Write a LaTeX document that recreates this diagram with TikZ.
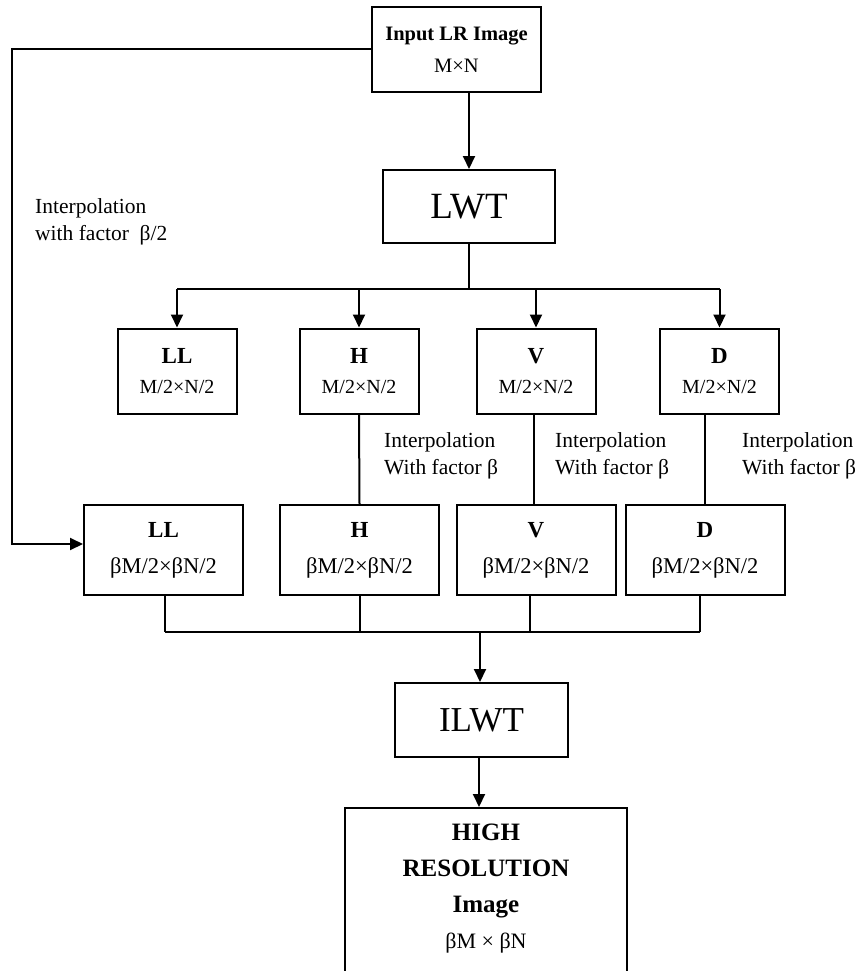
\documentclass[tikz,border=0pt]{standalone}
\usepackage{fontspec}
\setmainfont{Liberation Serif}
\usetikzlibrary{arrows.meta}
\begin{document}
\begin{tikzpicture}[x=1pt,y=-1pt,
  box/.style={draw, line width=2pt, inner sep=0pt, align=center},
  ln/.style={line width=2pt},
  arr/.style={line width=2pt, -{Triangle[width=12pt,length=13pt]}},
  lbl/.style={align=left, anchor=west, inner sep=0pt, font=\fontsize{21.5}{27}\selectfont}]
\useasboundingbox (0,0) rectangle (859,971);
\clip (0,0) rectangle (859,971);
% top
\node[box, minimum width=169pt, minimum height=85pt, font=\fontsize{20.5}{32}\selectfont] (in) at (456.5,49.5)
  {{\bfseries Input LR Image}\\M×N};
\node[box, minimum width=172pt, minimum height=73pt, font=\fontsize{37}{40}\selectfont] (lwt) at (469,206.5) {LWT};
% row 1
\begin{scope}[every node/.append style={box, minimum width=119pt, minimum height=85pt, font=\fontsize{20}{30}\selectfont}]
\node (ll1) at (177,371) {{\fontsize{23}{30}\selectfont\bfseries LL}\\M/2×N/2};
\node (h1) at (359,371) {{\fontsize{23}{30}\selectfont\bfseries H}\\M/2×N/2};
\node (v1) at (536,371) {{\fontsize{23}{30}\selectfont\bfseries V}\\M/2×N/2};
\node (d1) at (719.5,371) {{\fontsize{23}{30}\selectfont\bfseries D}\\M/2×N/2};
\end{scope}
% row 2
\begin{scope}[every node/.append style={box, minimum width=159pt, minimum height=90pt, font=\fontsize{22.5}{36}\selectfont}]
\node (ll2) at (163.5,550) {{\fontsize{23}{36}\selectfont\bfseries LL}\\βM/2×βN/2};
\node (h2) at (359.5,550) {{\fontsize{23}{36}\selectfont\bfseries H}\\βM/2×βN/2};
\node (v2) at (536,550) {{\fontsize{23}{36}\selectfont\bfseries V}\\βM/2×βN/2};
\node (d2) at (705,550) {{\fontsize{23}{36}\selectfont\bfseries D}\\βM/2×βN/2};
\end{scope}
\node[box, minimum width=173pt, minimum height=74pt, font=\fontsize{35}{40}\selectfont] (ilwt) at (481.5,720) {ILWT};
\node[box, anchor=north, minimum width=282pt, inner ysep=16pt, font=\fontsize{25}{36}\selectfont] (hr) at (486,807)
  {\bfseries HIGH\\\bfseries RESOLUTION\\\bfseries Image\\{\fontsize{22}{36}\selectfont βM × βN}\\\rule{0pt}{40pt}};
% labels
\node[lbl] (il0) at (35,222) {Interpolation\\with factor\enspace β/2};
\node[lbl] (ih) at (384,456) {Interpolation\\With factor β};
\node[lbl] (iv) at (555,456) {Interpolation\\With factor β};
\node[lbl] (id) at (742,456) {Interpolation\\With factor β};
% connectors
\draw[arr] (lwt.north |- in.south) -- (lwt.north);
\coordinate (split) at (469,289);
\draw[ln] (lwt.south) -- (split);
\draw[ln] (ll1.north |- split) -- (d1.north |- split);
\foreach \n in {ll1,h1,v1,d1} \draw[arr] (\n.north |- split) -- (\n.north);
\draw[arr] (in.west) -- ++(-359,0) coordinate (lc) |- ([yshift=6pt]ll2.west);
\draw[ln] (h1.south) -- (h2.north);
\draw[ln] ([xshift=-2pt]v1.south) -- ([xshift=-2pt]v2.north);
\draw[ln] (d1.south -| d2.north) -- (d2.north);
\coordinate (merge) at (480,632);
\draw[ln] ([xshift=1.5pt]ll2.south) -- ([xshift=1.5pt]ll2.south |- merge);
\draw[ln] (h2.south) -- (h2.south |- merge);
\draw[ln] ([xshift=-6pt]v2.south) -- ([xshift=-6pt]v2.south |- merge);
\draw[ln] ([xshift=-5pt]d2.south) -- ([xshift=-5pt]d2.south |- merge);
\draw[ln] ([xshift=1.5pt]ll2.south |- merge) -- ([xshift=-5pt]d2.south |- merge);
\draw[arr] (merge) -- (merge |- ilwt.north);
\draw[arr] ([xshift=-2.5pt]ilwt.south) -- ([xshift=-2.5pt]ilwt.south |- hr.north);
\end{tikzpicture}
\end{document}
